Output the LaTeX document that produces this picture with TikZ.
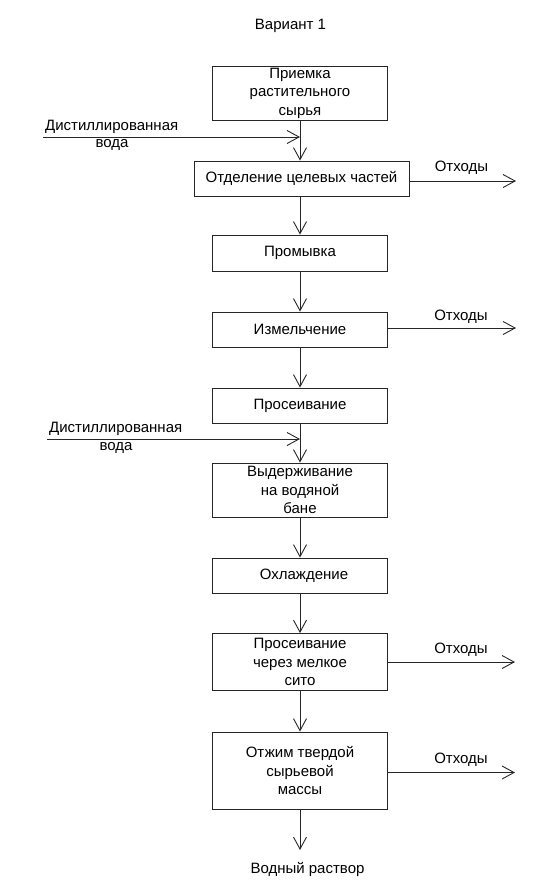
\documentclass[tikz,border=0pt]{standalone}
\usepackage{fontspec}
\setmainfont{Liberation Sans}
\usetikzlibrary{arrows.meta}
\begin{document}
\begin{tikzpicture}[x=1pt,y=-1pt,
  every node/.style={font=\fontsize{15}{18.5}\selectfont, inner sep=0pt},
  procbox/.style={draw=black!85, line width=0.9pt, minimum width=175pt, align=center},
  flow/.style={draw=black!85, line width=0.9pt, -{Straight Barb[length=12pt,width=13pt,line width=0.9pt]}},
  lbl/.style={align=center}]
\useasboundingbox (0,0) rectangle (557,884);
\node[lbl] (title) at (290.5,26) {Вариант 1};
\node[procbox, minimum height=54pt] (b1) at (300,93) {Приемка\\растительного\\сырья};
\node[procbox, minimum width=215pt, minimum height=35pt] (b2) at (301.5,178.5) {Отделение целевых частей};
\node[procbox, minimum height=36pt] (b3) at (300,253) {Промывка};
\node[procbox, minimum height=35pt] (b4) at (300,329.5) {Измельчение};
\node[procbox, minimum height=35pt] (b5) at (300,405.5) {Просеивание};
\node[procbox, minimum height=54pt] (b6) at (300,490) {Выдерживание\\на водяной\\бане};
\node[procbox, minimum height=35pt] (b7) at (300,575.5) {\hspace{8pt}Охлаждение};
\node[procbox, minimum height=57pt] (b8) at (300,662) {Просеивание\\через мелкое\\сито};
\node[procbox, minimum height=77pt] (b9) at (300,770.5) {Отжим твердой\\сырьевой\\массы};
\node[lbl] (out) at (307.5,869) {Водный раствор};
\coordinate (outtip) at (300,850);
% water inputs
\coordinate (j1) at (300,137);
\coordinate (j2) at (300,439);
\coordinate (w1) at (43,137);
\coordinate (w2) at (47,439);
\node[lbl, anchor=west] (w1a) at (45,127) {Дистиллированная};
\node[lbl] (w1b) at (112,145) {вода};
\node[lbl, anchor=west] (w2a) at (49,429) {Дистиллированная};
\node[lbl] (w2b) at (116,448) {вода};
\draw[flow] (w1) -- (j1);
\draw[flow] (w2) -- (j2);
% trunk
\draw[flow] (b1.south) -- (b1.south |- b2.north);
\draw[flow] (b1.south |- b2.south) -- (b3.north);
\draw[flow] (b3) -- (b4);
\draw[flow] (b4) -- (b5);
\draw[flow] (b5) -- (b6);
\draw[flow] (b6) -- (b7);
\draw[flow] (b7) -- (b8);
\draw[flow] (b8) -- (b9);
\draw[flow] (b9) -- (outtip);
% waste
\coordinate (o2) at (516,181);
\coordinate (o4) at (516,328);
\coordinate (o8) at (515,662);
\coordinate (o9) at (515,772.5);
\draw[flow] (b2.east |- o2) -- (o2);
\draw[flow] (b4.east |- o4) -- (o4);
\draw[flow] (b8.east |- o8) -- (o8);
\draw[flow] (b9.east |- o9) -- (o9);
\node[lbl] (x2) at (461.5,168) {Отходы};
\node[lbl] (x4) at (461,317) {Отходы};
\node[lbl] (x8) at (461,650) {Отходы};
\node[lbl] (x9) at (461,760) {Отходы};
\end{tikzpicture}
\end{document}
